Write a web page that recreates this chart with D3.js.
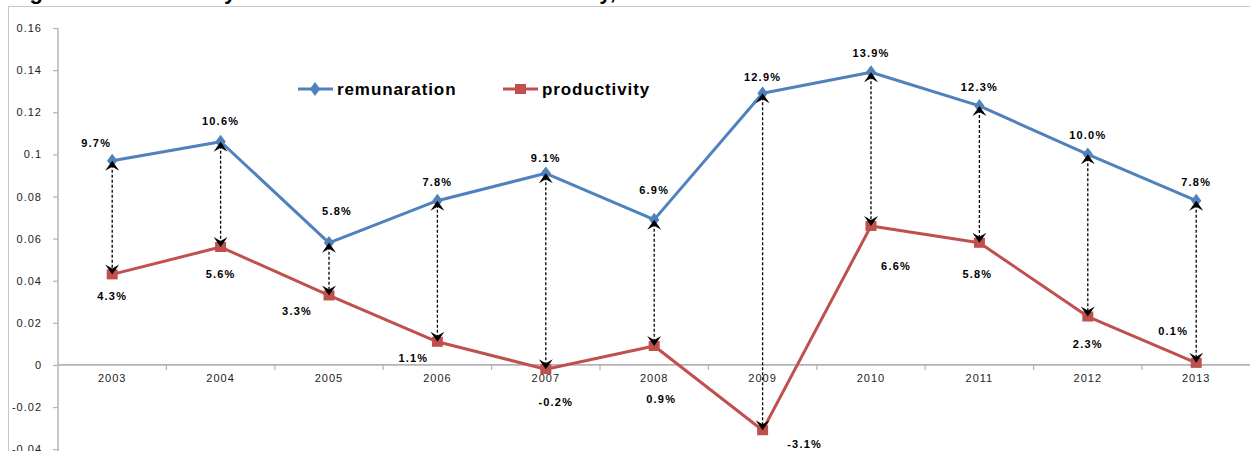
<!DOCTYPE html>
<html>
<head>
<meta charset="utf-8">
<script src="https://cdn.jsdelivr.net/npm/d3@7"></script>
<style>
  html, body { margin: 0; padding: 0; background: #fff; }
  svg { display: block; font-family: Arial, "Liberation Sans", sans-serif; }
</style>
</head>
<body>
<svg id="chart" width="1250" height="451"></svg>
<script>
// Annual growth rates, 2003-2013
const years = ["2003","2004","2005","2006","2007","2008","2009","2010","2011","2012","2013"];
const remuneration = [0.097, 0.106, 0.058, 0.078, 0.091, 0.069, 0.129, 0.139, 0.123, 0.100, 0.078];
const productivity = [0.043, 0.056, 0.033, 0.011, -0.002, 0.009, -0.031, 0.066, 0.058, 0.023, 0.001];
const yTicks = [-0.04, -0.02, 0, 0.02, 0.04, 0.06, 0.08, 0.1, 0.12, 0.14, 0.16];
const seriesNames = ["remunaration", "productivity"];

// label placement relative to each point (layout only)
const remLabelNudge = [[-16,-18],[0,-21],[8,-32],[0,-19],[0,-15],[0,-29],[0,-16],[0,-19],[0,-19],[0,-19],[0,-19]];
const prodLabelNudge = [[0,22],[0,27],[-32,16],[-24,16],[10,33],[7,53],[42,14],[25,40],[-2,31],[0,28],[-23,-32]];

const blue = "#4F81BD", red = "#C0504D", axisGrey = "#b4b4b4";
const svg = d3.select("#chart");

// plain hyphen for negatives
const locale = d3.formatLocale({ decimal: ".", thousands: ",", grouping: [3], currency: ["", ""], minus: "-" });
const pct = locale.format(".1%");
const num = locale.format("");

// outer frame and (clipped) heading
svg.append("rect").attr("x", 8.5).attr("y", 6.5).attr("width", 1300).attr("height", 500)
  .attr("fill", "none").attr("stroke", "#c8c8c8").attr("stroke-width", 1);
svg.append("text").attr("x", 10).attr("y", -1)
  .attr("font-size", 22).attr("font-weight", "bold").attr("fill", "#000")
  .text("Figure 8: Productivity and remuneration in Malta annually, 2003-2013");

const x = d3.scaleBand().domain(years).range([58, 1250.4]);
const y = d3.scaleLinear().domain([-0.04, 0.16]).range([449.2, 28]);
const cx = d => x(d) + x.bandwidth() / 2;

// y axis
const yAxis = d3.axisLeft(y).tickValues(yTicks).tickSize(5).tickPadding(11)
  .tickFormat(d => d === 0 ? "0" : num(+d.toFixed(2)));
const gy = svg.append("g").attr("transform", "translate(58,0)").call(yAxis);
gy.select(".domain").attr("stroke", axisGrey).attr("stroke-width", 1.5).attr("d", "M0,28V451");
gy.selectAll(".tick line").attr("stroke", axisGrey).attr("stroke-width", 1.2);
gy.selectAll(".tick text").attr("font-size", 11).attr("fill", "#222").attr("letter-spacing", 1).attr("font-family", "Arial, 'Liberation Sans', sans-serif");

// x axis at zero, ticks between categories
const gx = svg.append("g").attr("transform", `translate(0,${y(0)})`);
gx.append("line").attr("x1", 58).attr("x2", 1250).attr("stroke", axisGrey).attr("stroke-width", 1.8);
gx.selectAll("line.tk").data(years.slice(1)).join("line").attr("class", "tk")
  .attr("x1", d => x(d)).attr("x2", d => x(d)).attr("y1", 0).attr("y2", 5)
  .attr("stroke", axisGrey).attr("stroke-width", 1.2);
gx.selectAll("text").data(years).join("text")
  .attr("x", d => cx(d)).attr("y", 17).attr("text-anchor", "middle")
  .attr("font-size", 11).attr("letter-spacing", 1).attr("fill", "#222").text(d => d);

// series lines
const line = d3.line().x((d, i) => cx(years[i])).y(d => y(d));
svg.append("path").datum(remuneration).attr("d", line).attr("fill", "none")
  .attr("stroke", blue).attr("stroke-width", 3).attr("stroke-linejoin", "round");
svg.append("path").datum(productivity).attr("d", line).attr("fill", "none")
  .attr("stroke", red).attr("stroke-width", 3).attr("stroke-linejoin", "round");

// markers
const diamond = d3.symbol().type(d3.symbolDiamond).size(55);
svg.selectAll("path.rm").data(remuneration).join("path").attr("class", "rm")
  .attr("d", diamond).attr("fill", blue)
  .attr("transform", (d, i) => `translate(${cx(years[i])},${y(d)}) scale(1.3,1)`);
svg.selectAll("rect.pm").data(productivity).join("rect").attr("class", "pm")
  .attr("x", (d, i) => cx(years[i]) - 5.5).attr("y", d => y(d) - 5)
  .attr("width", 11).attr("height", 10).attr("fill", red);

// double-headed dotted connectors
const gap = svg.append("g");
years.forEach((yr, i) => {
  const px = cx(yr), top = y(remuneration[i]), bot = y(productivity[i]);
  gap.append("line").attr("x1", px).attr("x2", px).attr("y1", top + 4).attr("y2", bot - 4)
    .attr("stroke", "#000").attr("stroke-width", 1.3).attr("stroke-dasharray", "3,2");
  gap.append("path").attr("d", `M${px},${top} L${px - 7},${top + 10} L${px},${top + 6} L${px + 7},${top + 10} Z`)
    .attr("fill", "#000");
  gap.append("path").attr("d", `M${px},${bot} L${px - 7},${bot - 10} L${px},${bot - 6} L${px + 7},${bot - 10} Z`)
    .attr("fill", "#000");
});

// value labels
svg.selectAll("text.rl").data(remuneration).join("text").attr("class", "rl")
  .attr("x", (d, i) => cx(years[i]) + remLabelNudge[i][0])
  .attr("y", (d, i) => y(d) + remLabelNudge[i][1]).attr("dy", "0.35em")
  .attr("text-anchor", "middle").attr("font-size", 11).attr("font-weight", "bold")
  .attr("letter-spacing", 1.2).attr("fill", "#000").text(d => pct(d));
svg.selectAll("text.pl").data(productivity).join("text").attr("class", "pl")
  .attr("x", (d, i) => cx(years[i]) + prodLabelNudge[i][0])
  .attr("y", (d, i) => y(d) + prodLabelNudge[i][1]).attr("dy", "0.35em")
  .attr("text-anchor", "middle").attr("font-size", 11).attr("font-weight", "bold")
  .attr("letter-spacing", 1.2).attr("fill", "#000").text(d => pct(d));

// legend
const legend = svg.append("g");
const legendItems = [
  { name: seriesNames[0], color: blue, x0: 298, shape: "diamond" },
  { name: seriesNames[1], color: red, x0: 503, shape: "square" }
];
legendItems.forEach(it => {
  legend.append("line").attr("x1", it.x0).attr("x2", it.x0 + 35).attr("y1", 89).attr("y2", 89)
    .attr("stroke", it.color).attr("stroke-width", 3);
  if (it.shape === "diamond") {
    legend.append("path").attr("d", diamond).attr("fill", it.color)
      .attr("transform", `translate(${it.x0 + 17},89) scale(1.3,1)`);
  } else {
    legend.append("rect").attr("x", it.x0 + 12).attr("y", 84).attr("width", 11).attr("height", 10).attr("fill", it.color);
  }
  legend.append("text").attr("x", it.x0 + 39).attr("y", 89).attr("dy", "0.35em")
    .attr("font-size", 17).attr("font-weight", "bold").attr("letter-spacing", 0.9)
    .attr("fill", "#000").text(it.name);
});
</script>
</body>
</html>
